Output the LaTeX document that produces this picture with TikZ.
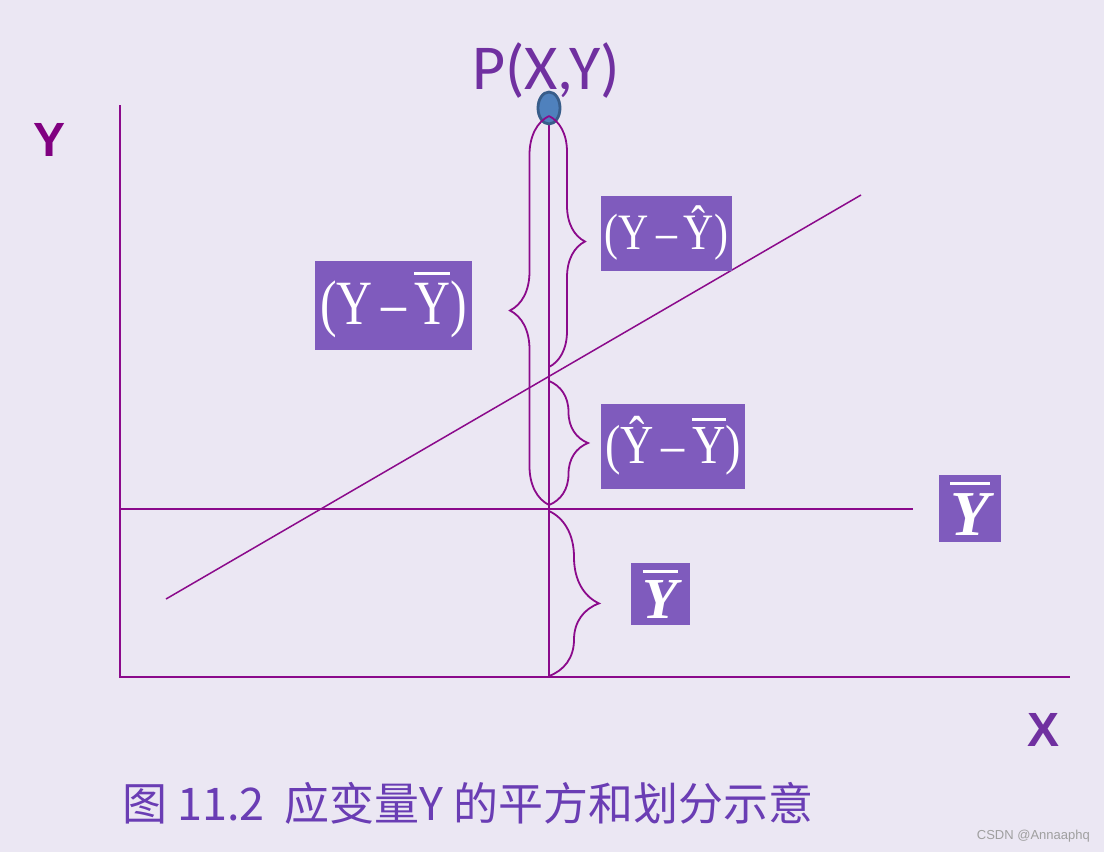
\documentclass[tikz,border=0pt]{standalone}
\usepackage{fontspec}
\usepackage{graphicx}
\setmainfont{Liberation Serif}
\setsansfont{Liberation Sans}
\newfontfamily\cjkfont{Noto Sans CJK SC}
\newfontfamily\calibfont{Carlito}
\definecolor{Bgcol}{HTML}{EBE7F3}
\definecolor{Axcol}{HTML}{8B0A8B}
\definecolor{Ylabcol}{HTML}{800080}
\definecolor{Boxcol}{HTML}{7F5BBD}
\definecolor{Txtcol}{HTML}{7030A0}
\definecolor{Capcol}{HTML}{6A3DB4}
\definecolor{Ptfill}{HTML}{4F81BD}
\definecolor{Ptdraw}{HTML}{385D8A}
\usetikzlibrary{decorations.pathreplacing, shapes.geometric, positioning}
\newcommand{\fsz}[1]{\fontsize{#1}{#1}\selectfont}
\newcommand{\barred}[1]{\leavevmode\vbox{\hrule height .045em\kern .13em\hbox{#1}}}
\tikzset{
    axis/.style={Axcol, line width=1.9pt},
    bracket/.style={Axcol, line width=1.8pt, decorate, decoration={brace, amplitude=#1}},
    termbox/.style={fill=Boxcol, text=white, inner sep=0pt, align=center},
    axlabel/.style={font=\sffamily\bfseries\fsz{48}, anchor=base}
}

\begin{document}
\begin{tikzpicture}[x=1pt, y=-1pt]
    % Background
    \fill[Bgcol] (0,0) rectangle (1104,852);
    \useasboundingbox (0,0) rectangle (1104,852);

    % Coordinates
    \coordinate (O) at (120,677);
    \coordinate (ytop) at (120,105);
    \coordinate (xend) at (1070,677);
    \coordinate (mleft) at (120,509);
    \coordinate (mright) at (913,509);
    \coordinate (rstart) at (166,599);
    \coordinate (rend) at (861,195);
    \coordinate (Pc) at (549,108);
    \coordinate (foot) at (549,677);

    % Axes, mean line and regression line
    \draw[axis] (ytop) -- (O) -- (xend);
    \draw[axis] (mleft) -- (mright);
    \draw[axis, line width=1.5pt] (rstart) -- (rend);
    \draw[axis] (Pc) -- (foot);

    % Point P
    \node[ellipse, fill=Ptfill, draw=Ptdraw, line width=2.8pt, minimum width=22pt, minimum height=32pt, inner sep=0pt] (P) at (Pc) {};
    \node[font=\calibfont\fsz{64}, text=Txtcol, anchor=base] (ptxt) at (546,89) {P(X,Y)};

    % Brace end points on the vertical line
    \coordinate (b1) at (549,116);
    \coordinate (b2) at (549,367);
    \coordinate (b3) at (549,381);
    \coordinate (b4) at (549,505);
    \coordinate (b5) at (549,511);
    \coordinate (b6) at (549,676);

    % Braces
    \draw[bracket=39pt] (b4) -- (b1);
    \draw[bracket=36pt] (b1) -- (b2);
    \draw[bracket=39pt] (b3) -- (b4);
    \draw[bracket=50pt, decoration={aspect=0.56}] (b5) -- (b6);

    % Term boxes
    \node[termbox, minimum width=157pt, minimum height=89pt] (tot) at (393.5,305)
        {\fsz{63}\scalebox{0.79}[1]{(Y\,\textendash\,\barred{Y})}};
    \node[termbox, minimum width=131pt, minimum height=75pt] (res) at (666.5,233.5)
        {\fsz{51}\scalebox{0.82}[1]{(Y\,\textendash\,Ŷ)}};
    \node[termbox, minimum width=144pt, minimum height=85pt] (reg) at (673,446)
        {\fsz{55}\scalebox{0.84}[1]{(Ŷ\,\textendash\,\barred{Y})}};
    \node[termbox, minimum width=59pt, minimum height=62pt] (mean) at (660.5,594)
        {\fsz{58}\bfseries\itshape\barred{Y}};
    \node[termbox, minimum width=62pt, minimum height=67pt] (meanr) at (970,508.5)
        {\fsz{64}\bfseries\itshape\barred{Y}};

    % Axis labels
    \node[axlabel, text=Ylabcol] (ylab) at (50,156) {Y};
    \node[axlabel, text=Txtcol] (xlab) at (1043,746) {X};

    % Caption
    \node[font=\cjkfont\fsz{45}, text=Capcol, anchor=base west, inner sep=0pt] (cap) at (122,820)
        {图 11.2\ \ 应变量Y 的平方和划分示意};
    \node[font=\sffamily\fsz{13}, text=gray!75, anchor=base east, inner sep=0pt] (mark) at (1090,839) {CSDN @Annaaphq};
\end{tikzpicture}
\end{document}
